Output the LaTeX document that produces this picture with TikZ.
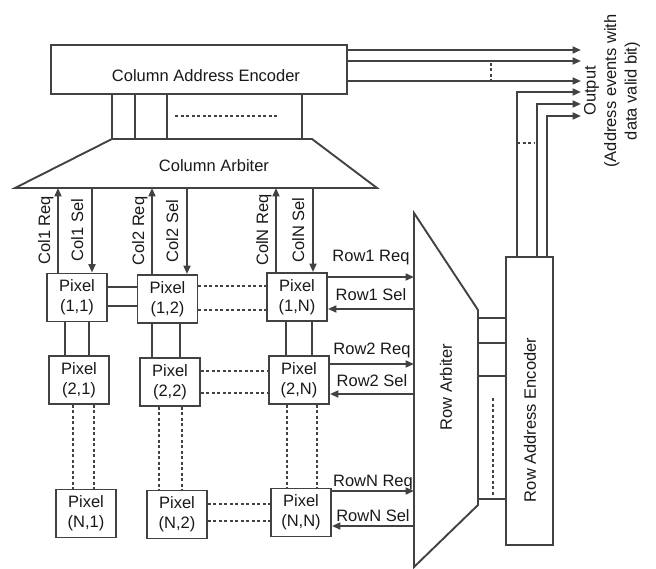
\documentclass[tikz,border=0pt]{standalone}
\usepackage{fontspec}
\setmainfont{Liberation Sans}
\usepackage{xcolor}
\definecolor{aerline}{RGB}{66,66,66}
\definecolor{aertext}{RGB}{25,25,25}
\usetikzlibrary{arrows.meta,positioning,calc}

\begin{document}
\begin{tikzpicture}[x=1pt, y=-1pt, line width=1.9pt, color=aerline, text=aertext,
  font=\fontsize{16.5}{19.5}\selectfont,
  pixel/.style={draw, fill=white, minimum width=60pt, minimum height=48pt, inner sep=0pt, align=center, font=\fontsize{16.5}{20}\selectfont},
  encbox/.style={draw, fill=white, inner sep=0pt},
  sig/.style={-{Triangle[length=8.5pt,width=7pt]}},
  dashln/.style={dash pattern=on 3pt off 2.5pt, line width=1.6pt},
  vlbl/.style={inner sep=0pt, anchor=base},
  hlbl/.style={inner sep=0pt, anchor=base}]
\useasboundingbox (0,0) rectangle (656,569);

% Column address encoder and column arbiter
\node[encbox, minimum width=296pt, minimum height=49pt] (colenc) at (199,69.5) {};
\node[anchor=base] (colenctxt) at (206,82) {Column Address Encoder};
\coordinate (cabtop) at (0,139);
\coordinate (cabbot) at (0,188);
\draw (112,0 |- cabtop) -- (312,0 |- cabtop) -- (377,0 |- cabbot) -- (15,0 |- cabbot) -- cycle;
\node[anchor=base] (cabtxt) at (214,172) {Column Arbiter};
\foreach \x in {112,135,167,302}
  \draw (\x,0 |- colenc.south) -- (\x,0 |- cabtop);
\draw[dashln] (175,116) -- (278,116);

% Pixel array
\node[pixel] (p11) at (77,297.5) {Pixel\\(1,1)};
\node[pixel] (p12) at (167.5,299) {Pixel\\(1,2)};
\node[pixel] (p1n) at (297,297) {Pixel\\(1,N)};
\node[pixel] (p21) at (79,380) {Pixel\\(2,1)};
\node[pixel] (p22) at (170,382) {Pixel\\(2,2)};
\node[pixel] (p2n) at (299,380) {Pixel\\(2,N)};
\node[pixel] (pn1) at (86,513.5) {Pixel\\(N,1)};
\node[pixel] (pn2) at (177,514.5) {Pixel\\(N,2)};
\node[pixel] (pnn) at (301,512.5) {Pixel\\(N,N)};

\foreach \y in {287,306}
  \draw (p11.east |- 0,\y) -- (p12.west |- 0,\y);
\foreach \y in {286,310}
  \draw[dashln] (p12.east |- 0,\y) -- (p1n.west |- 0,\y);
\foreach \y in {371,393}
  \draw[dashln] (p22.east |- 0,\y) -- (p2n.west |- 0,\y);
\foreach \y in {504,521}
  \draw[dashln] (pn2.east |- 0,\y) -- (pnn.west |- 0,\y);

\foreach \a/\b/\x in {p11/p21/65, p11/p21/89, p12/p22/152, p12/p22/180, p1n/p2n/286, p1n/p2n/312}
  \draw (\x,0 |- \a.south) -- (\x,0 |- \b.north);
\foreach \a/\b/\x in {p21/pn1/73, p21/pn1/94, p22/pn2/159, p22/pn2/182, p2n/pnn/287, p2n/pnn/317}
  \draw[dashln] (\x,0 |- \a.south) -- (\x,0 |- \b.north);

% Column request / select
\foreach \p/\xq/\xs/\c in {p11/58/92/1, p12/152/187/2, p1n/276/313/N} {
  \draw[sig] (\xq,0 |- \p.north) -- (\xq,0 |- cabbot)
    node[vlbl, midway, xshift=-8pt, rotate=90] {Col\c{} Req};
  \draw[sig] (\xs,0 |- cabbot) -- (\xs,0 |- \p.north)
    node[vlbl, midway, xshift=-9pt, rotate=90] {Col\c{} Sel};
}

% Row arbiter and row address encoder
\coordinate (ral) at (414,0);
\coordinate (rar) at (478,0);
\draw (ral |- 0,213) -- (rar |- 0,310) -- (rar |- 0,505) -- (ral |- 0,567) -- cycle;
\node[rotate=90] (rarbtxt) at (446,387) {Row Arbiter};
\node[encbox, minimum width=47pt, minimum height=288pt] (rowenc) at (529.5,401) {};
\node[rotate=90] (rowenctxt) at (530,420) {Row Address Encoder};
\foreach \y in {318,343,376,499}
  \draw (rar |- 0,\y) -- (rowenc.west |- 0,\y);
\draw[dashln] (493,398) -- (493,495);

% Row request / select
\foreach \p/\yq/\ys/\r/\gq/\gs in {p1n/277/309/1/15/8, p2n/364/394/2/10/8, pnn/491/526/N/5/5} {
  \draw[sig] (\p.east |- 0,\yq) -- (ral |- 0,\yq)
    node[hlbl, midway, yshift=\gq pt] {Row\r{} Req};
  \draw[sig] (ral |- 0,\ys) -- (\p.east |- 0,\ys)
    node[hlbl, midway, yshift=\gs pt] {Row\r{} Sel};
}

% Outputs
\coordinate (outx) at (581,0);
\foreach \y in {50,61,81}
  \draw[sig] (colenc.east |- 0,\y) -- (outx |- 0,\y);
\draw[dashln] (491,63) -- (491,80);
\foreach \x/\y in {517/92, 537/104, 547/116}
  \draw[sig] (\x,0 |- rowenc.north) |- (outx |- 0,\y);
\draw[dashln] (517,143) -- (535,143);
\node[rotate=90, align=center, font=\fontsize{16.5}{20.5}\selectfont] (outlbl) at (612,91)
  {Output\\(Address events with\\data valid bit)};
\end{tikzpicture}
\end{document}
